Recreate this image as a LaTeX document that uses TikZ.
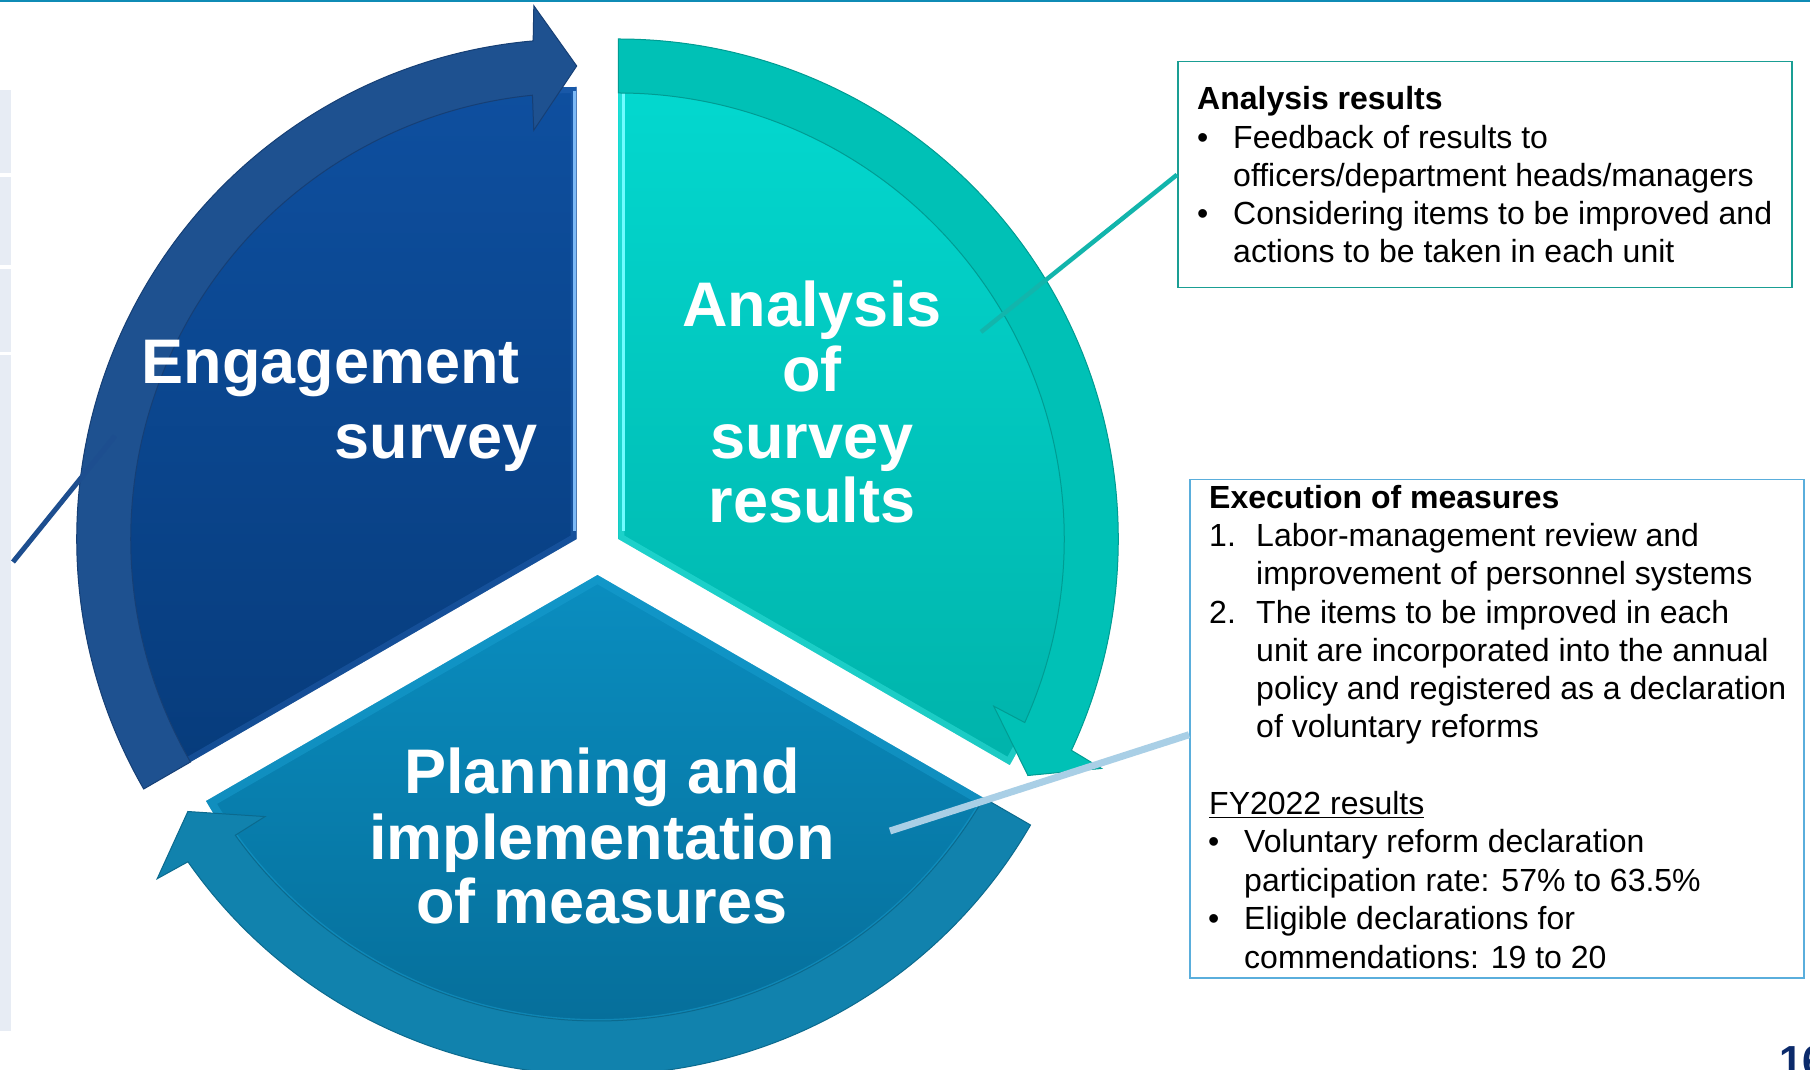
\documentclass[tikz,border=0pt]{standalone}
\usepackage{fontspec}
\setmainfont{Liberation Sans}
\usetikzlibrary{calc}
\definecolor{dbring}{HTML}{1E5190}
\definecolor{dbringd}{HTML}{163F75}
\definecolor{dbtop}{HTML}{0E4F9F}
\definecolor{dbbot}{HTML}{073C7C}
\definecolor{dbbev}{HTML}{2563B3}
\definecolor{dbhi}{HTML}{7DBAF7}
\definecolor{tlring}{HTML}{00C1B6}
\definecolor{tlringd}{HTML}{009C93}
\definecolor{tltop}{HTML}{03D8CF}
\definecolor{tlbot}{HTML}{00B3AB}
\definecolor{tlbev}{HTML}{3FE9E3}
\definecolor{tlhi}{HTML}{70FCFF}
\definecolor{bmring}{HTML}{1182AD}
\definecolor{bmringd}{HTML}{0B6A8E}
\definecolor{bmtop}{HTML}{0A8EC0}
\definecolor{bmbot}{HTML}{056A95}
\definecolor{bmbev}{HTML}{1AA2D4}
\definecolor{navy}{HTML}{0B2A6B}
\definecolor{topline}{HTML}{0F8BB5}
\definecolor{strip}{HTML}{E7ECF4}
\definecolor{tealline}{HTML}{12B5AC}
\definecolor{lightline}{HTML}{A9CFE6}
\definecolor{dbline}{HTML}{1D4E8F}
\definecolor{aboxc}{HTML}{1A9E94}
\definecolor{eboxc}{HTML}{5AAEDC}
\tikzset{
  bigtxt/.style={inner sep=0pt, text=white, font=\fontsize{63}{75}\selectfont\bfseries},
  btxt/.style={anchor=base west, inner sep=0pt, text=black, font=\fontsize{32}{38}\selectfont},
  bhead/.style={btxt, font=\fontsize{32}{38}\selectfont\bfseries},
  infobox/.style={anchor=north west, inner sep=0pt, line width=1.5pt, fill=white},
}
\begin{document}
\begin{tikzpicture}[x=1pt,y=1pt]
\useasboundingbox (0,0) rectangle (1810,1069);
\clip (0,0) rectangle (1810,1069);
\fill[white] (0,0) rectangle (1810,1069);

% top rule and left strip
\draw[topline, line width=2pt] (0,1068) -- (1810,1068);
\fill[strip] (0,979) rectangle (11,896);
\fill[strip] (0,892) rectangle (11,804);
\fill[strip] (0,800) rectangle (11,717);
\fill[strip] (0,714) rectangle (11,38);

% centres
\coordinate (C) at (597.5,518);
\coordinate (VD) at ($(C)+(150:24)$);
\coordinate (VT) at ($(C)+(30:24)$);
\coordinate (VB) at ($(C)+(270:24)$);

% sector fills
\shade[top color=dbtop, bottom color=dbbot] (VD) -- ++(90:452) arc[start angle=90,end angle=210,radius=452] -- cycle;
\shade[top color=tltop, bottom color=tlbot] (VT) -- ++(90:452) arc[start angle=90,end angle=-30,radius=452] -- cycle;
\shade[top color=bmtop, bottom color=bmbot] (VB) -- ++(-30:452) arc[start angle=-30,end angle=-150,radius=452] -- cycle;

% bevels
\begin{scope}
\clip (VD) -- ++(90:452) arc[start angle=90,end angle=210,radius=452] -- cycle;
\draw[dbbev, line width=12pt, opacity=0.45] (VD) -- ++(90:452) arc[start angle=90,end angle=210,radius=452] -- cycle;
\draw[dbhi, line width=3pt] ($(VD)+(-2.5,8)$) -- ++(0,440);
\end{scope}
\begin{scope}
\clip (VT) -- ++(90:452) arc[start angle=90,end angle=-30,radius=452] -- cycle;
\draw[tlbev, line width=12pt, opacity=0.45] (VT) -- ++(90:452) arc[start angle=90,end angle=-30,radius=452] -- cycle;
\draw[tlhi, line width=3pt] ($(VT)+(5,8)$) -- ++(0,440);
\end{scope}
\begin{scope}
\clip (VB) -- ++(-30:452) arc[start angle=-30,end angle=-150,radius=452] -- cycle;
\draw[bmbev, line width=16pt, opacity=0.45] (VB) -- ++(-30:452) arc[start angle=-30,end angle=-150,radius=452] -- cycle;
\end{scope}

% arrow rings
\filldraw[fill=dbring, draw=dbringd, line width=1pt]
  ($(VD)+(210:500)$) arc[start angle=210,end angle=95,radius=500]
  -- ($(VD)+(94.6:535)$) -- ($(VD)+(90:473)$) -- ($(VD)+(96:411)$)
  -- ($(VD)+(95.7:446)$) arc[start angle=95.7,end angle=210,radius=446] -- cycle;
\filldraw[fill=tlring, draw=tlringd, line width=1pt]
  ($(VT)+(90:500)$) arc[start angle=90,end angle=-25,radius=500]
  -- ($(VT)+(-25.4:535)$) -- ($(VT)+(-30:473)$) -- ($(VT)+(-24:411)$)
  -- ($(VT)+(-24.3:446)$) arc[start angle=-24.3,end angle=90,radius=446] -- cycle;
\filldraw[fill=bmring, draw=bmringd, line width=1pt]
  ($(VB)+(-30:500)$) arc[start angle=-30,end angle=-145,radius=500]
  -- ($(VB)+(-145.4:535)$) -- ($(VB)+(-150:473)$) -- ($(VB)+(-144:411)$)
  -- ($(VB)+(-144.3:446)$) arc[start angle=-144.3,end angle=-30,radius=446] -- cycle;

% segment labels
\node[bigtxt, anchor=base east] (eng1) at (520,685) {Engagement};
\node[bigtxt, anchor=base east] (eng2) at (538,610) {survey};
\node[bigtxt, anchor=base] (ana1) at (812,742) {Analysis};
\node[bigtxt, anchor=base] (ana2) at (812,677) {of};
\node[bigtxt, anchor=base] (ana3) at (812,610) {survey};
\node[bigtxt, anchor=base] (ana4) at (812,546) {results};
\node[bigtxt, anchor=base] (pln1) at (602,275) {Planning and};
\node[bigtxt, anchor=base] (pln2) at (602,209) {implementation};
\node[bigtxt, anchor=base] (pln3) at (602,146) {of measures};

% boxes
\node[infobox, draw=aboxc, minimum width=614pt, minimum height=226pt] (abox) at (1177,1008) {};
\node[infobox, draw=eboxc, minimum width=614pt, minimum height=498pt] (ebox) at (1189,590) {};

% connectors
\coordinate (dl1) at (13,507);
\coordinate (dl2) at (115,633);
\coordinate (tl) at (981,737);
\coordinate (ll) at (890,238);
\draw[dbline, line width=5pt] (dl1) -- (dl2);
\draw[tealline, line width=4.5pt] (abox.west) -- (tl);
\draw[lightline, line width=7pt] ($(ebox.west)+(0,-6)$) -- (ll);

% analysis box text
\node[bhead] (a0) at (1197,959) {Analysis results};
\node[btxt] (ab1) at (1197,920) {•};
\node[btxt] (a1) at (1233,920) {Feedback of results to};
\node[btxt] (a2) at (1233,882) {officers/department heads/managers};
\node[btxt] (ab2) at (1197,844) {•};
\node[btxt] (a3) at (1233,844) {Considering items to be improved and};
\node[btxt] (a4) at (1233,806) {actions to be taken in each unit};

% execution box text
\node[bhead] (e0) at (1209,560) {Execution of measures};
\node[btxt] (en1) at (1209,522) {1.};
\node[btxt] (e1) at (1256,522) {Labor-management review and};
\node[btxt] (e2) at (1256,484) {improvement of personnel systems};
\node[btxt] (en2) at (1209,445) {2.};
\node[btxt] (e3) at (1256,445) {The items to be improved in each};
\node[btxt] (e4) at (1256,407) {unit are incorporated into the annual};
\node[btxt] (e5) at (1256,369) {policy and registered as a declaration};
\node[btxt] (e6) at (1256,331) {of voluntary reforms};
\node[btxt] (f0) at (1209,254) {\underline{FY2022 results}};
\node[btxt] (fb1) at (1208,216) {•};
\node[btxt] (f1) at (1244,216) {Voluntary reform declaration};
\node[btxt] (f2) at (1244,178) {participation rate: 57\% to 63.5\%};
\node[btxt] (fb2) at (1208,140) {•};
\node[btxt] (f3) at (1244,140) {Eligible declarations for};
\node[btxt] (f4) at (1244,101) {commendations: 19 to 20};

% page number
\node[anchor=base west, inner sep=0pt, text=navy, font=\fontsize{42}{50}\selectfont\bfseries] (pg) at (1779,-6) {16};
\end{tikzpicture}
\end{document}
